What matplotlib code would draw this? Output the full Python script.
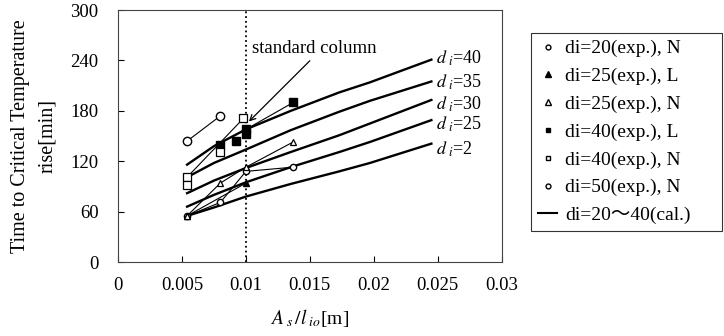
import numpy as np
import matplotlib
matplotlib.use("Agg")
import matplotlib.pyplot as plt
from matplotlib.lines import Line2D

plt.rcParams["font.family"] = ["Liberation Serif", "DejaVu Serif"]
plt.rcParams["mathtext.fontset"] = "stix"

# experimental data (x = As/lio [m], y = time [min])
di20_n_x = [0.0054, 0.0080, 0.0100, 0.0137]
di20_n_y = [55, 71, 108, 113]

di25_l_x = [0.0054, 0.0100]
di25_l_y = [55, 94]

di25_n_x = [0.0054, 0.0080, 0.0100, 0.0137]
di25_n_y = [55, 94, 113, 143]

di40_l_x = [0.0080, 0.0092, 0.0100, 0.0100, 0.0137]
di40_l_y = [139, 144, 153, 158, 190]
di40_l_line_x = [0.0100, 0.0137]
di40_l_line_y = [158, 190]

di40_n_x = [0.0054, 0.0054, 0.0080, 0.0098]
di40_n_y = [101, 92, 131, 171]
di40_n_line_x = [0.0054, 0.0098]
di40_n_line_y = [101, 171]

di50_n_x = [0.0054, 0.0080]
di50_n_y = [144, 174]

# calculated curves
calc_x = [0.0054, 0.0075, 0.0100, 0.0135, 0.0173, 0.0197, 0.0245]
calc_curves = {
    "40": [116, 138, 158, 180, 202, 214, 241],
    "35": [101, 118, 134, 157, 179, 192, 215],
    "30": [82, 97, 112, 131, 151, 165, 193],
    "25": [66, 80, 95, 113, 131, 143, 169],
    "2": [55, 65, 78, 93, 108, 118, 141],
}
curve_label_y = {"40": 243, "35": 214, "30": 188, "25": 164, "2": 134}

x_ticks = [0, 0.005, 0.01, 0.015, 0.02, 0.025, 0.03]
x_tick_labels = ["0", "0.005", "0.01", "0.015", "0.02", "0.025", "0.03"]
y_ticks = [0, 60, 120, 180, 240, 300]


def main():
    fig = plt.figure(figsize=(7.24, 3.36), dpi=100)
    ax = fig.add_axes([0.163, 0.220, 0.530, 0.750])

    for key, ys in calc_curves.items():
        ax.plot(calc_x, ys, color="black", lw=1.7, zorder=3)
        ax.text(0.0249, curve_label_y[key], r"$d_{\ i}$=" + key,
                fontsize=13, ha="left", va="center")

    thin = dict(color="black", lw=0.8, zorder=4)
    ax.plot(di20_n_x, di20_n_y, marker="o", ms=4.5, mfc="white", mec="black", mew=1.0, **thin)
    ax.plot(di25_l_x, di25_l_y, marker="^", ms=5, mfc="black", mec="black", **thin)
    ax.plot(di25_n_x, di25_n_y, marker="^", ms=5, mfc="white", mec="black", mew=0.9, **thin)
    ax.plot(di40_l_line_x, di40_l_line_y, **thin)
    ax.plot(di40_l_x, di40_l_y, ls="none", marker="s", ms=5.5, mfc="black", mec="black", zorder=5)
    ax.plot(di40_n_line_x, di40_n_line_y, **thin)
    ax.plot(di40_n_x, di40_n_y, ls="none", marker="s", ms=5.5, mfc="white", mec="black", mew=0.9, zorder=5)
    ax.plot(di50_n_x, di50_n_y, marker="o", ms=6, mfc="white", mec="black", mew=1.0, **thin)

    ax.axvline(0.01, color="black", ls=":", lw=1.3, zorder=2)

    ax.text(0.01047, 254, "standard column", fontsize=13.5, ha="left", va="center")
    ax.annotate("", xy=(0.01008, 165), xytext=(0.01515, 242),
                arrowprops=dict(arrowstyle="->", color="black", lw=0.9))

    ax.set_xlim(0, 0.03)
    ax.set_ylim(0, 300)
    ax.set_xticks(x_ticks)
    ax.set_xticklabels(x_tick_labels)
    ax.set_yticks(y_ticks)
    ax.tick_params(direction="in", length=4, width=0.8, labelsize=13.5)
    ax.tick_params(axis="x", pad=11)
    ax.tick_params(axis="y", pad=14)
    for sp in ax.spines.values():
        sp.set_linewidth(0.8)
        sp.set_color("#444444")

    ax.set_xlabel(r"$A_{\ s}\,/l_{\ io}$[m]", fontsize=14, labelpad=9)
    ax.set_ylabel("Time to Critical Temperature\nrise[min]", fontsize=14.5,
                  linespacing=1.55, labelpad=10)

    handles = [
        Line2D([], [], ls="none", marker="o", ms=3.5, mfc="white", mec="black"),
        Line2D([], [], ls="none", marker="^", ms=4, mfc="black", mec="black"),
        Line2D([], [], ls="none", marker="^", ms=4, mfc="white", mec="black"),
        Line2D([], [], ls="none", marker="s", ms=3.5, mfc="black", mec="black"),
        Line2D([], [], ls="none", marker="s", ms=3.5, mfc="white", mec="black"),
        Line2D([], [], ls="none", marker="o", ms=3.5, mfc="white", mec="black"),
        Line2D([], [], color="black", lw=1.5),
    ]
    labels = [
        "di=20(exp.), N",
        "di=25(exp.), L",
        "di=25(exp.), N",
        "di=40(exp.), L",
        "di=40(exp.), N",
        "di=50(exp.), N",
        "di=20\uff5e40(cal.)",
    ]
    leg = fig.legend(handles, labels, loc="upper left",
                     bbox_to_anchor=(531 / 724, 1 - 33 / 336, 191 / 724, 0.0),
                     mode="expand", frameon=True, fancybox=False,
                     edgecolor="black", borderpad=0.35, labelspacing=0.52,
                     handlelength=1.0, handletextpad=0.4, borderaxespad=0.0,
                     prop={"family": ["Liberation Serif", "Noto Sans CJK JP"], "size": 14})
    leg.get_frame().set_linewidth(0.8)

    fig.savefig("out.png", dpi=100)
    plt.close(fig)


if __name__ == "__main__":
    main()
